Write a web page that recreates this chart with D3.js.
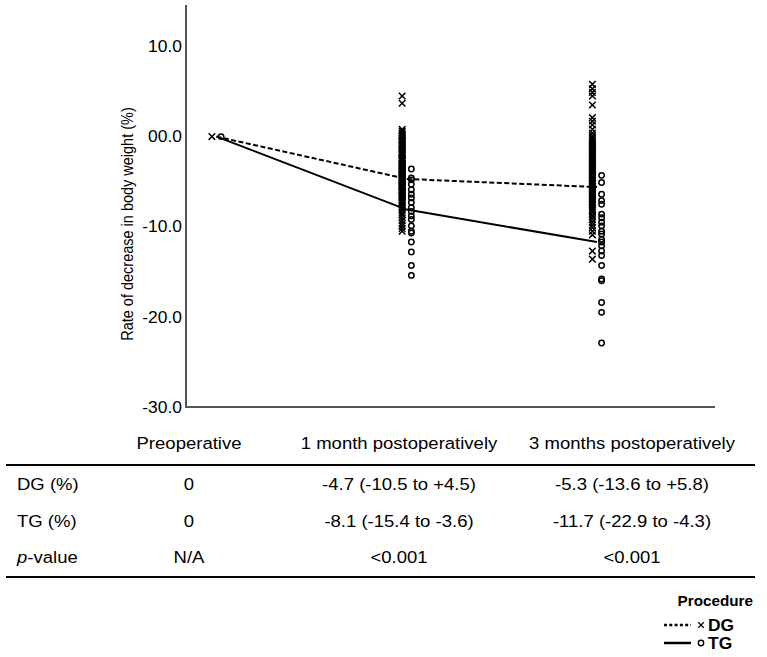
<!DOCTYPE html>
<html>
<head>
<meta charset="utf-8">
<script src="https://cdn.jsdelivr.net/npm/d3@7"></script>
<style>
  body { margin: 0; background: #fff; }
  svg { display: block; font-family: "Liberation Sans", Arial, sans-serif; }
</style>
</head>
<body>
<svg id="chart" width="767" height="657"></svg>
<script>
// ---- data ----
const timepoints = ["Preoperative", "1 month postoperatively", "3 months postoperatively"];
const yTicks = [10, 0, -10, -20, -30];
const yTickLabels = ["10.0", "00.0", "-10.0", "-20.0", "-30.0"];

const dgPre = [0];
const tgPre = [0];
const dg1m = [4.5, 3.7, 0.8, 0.6, 0.4, 0.2, 0.1, 0.0, -0.2, -0.3, -0.5, -0.6, -0.8, -0.9, -1.0, -1.1, -1.3, -1.4, -1.5, -1.7, -1.8, -1.9, -2.0, -2.1, -2.3, -2.4, -2.5, -2.6, -2.7, -2.9, -3.0, -3.1, -3.2, -3.3, -3.4, -3.5, -3.6, -3.7, -3.8, -3.9, -4.0, -4.1, -4.2, -4.3, -4.4, -4.5, -4.6, -4.7, -4.8, -4.9, -5.0, -5.1, -5.2, -5.3, -5.4, -5.5, -5.6, -5.7, -5.8, -5.9, -6.0, -6.1, -6.2, -6.3, -6.5, -6.6, -6.7, -6.8, -7.0, -7.1, -7.3, -7.4, -7.6, -7.8, -8.0, -8.2, -8.5, -8.7, -9.0, -9.3, -9.6, -9.9, -10.2, -10.5];
const tg1m = [-3.6, -4.6, -4.8, -5.3, -5.9, -6.4, -6.8, -7.3, -7.9, -8.3, -8.8, -9.2, -9.9, -10.5, -10.7, -11.7, -12.8, -14.3, -15.4];
const dg3m = [5.8, 5.3, 4.9, 4.5, 3.5, 2.1, 1.7, 1.3, 0.8, 0.4, 0.1, -0.1, -0.3, -0.5, -0.7, -0.9, -1.0, -1.2, -1.4, -1.5, -1.7, -1.9, -2.0, -2.2, -2.4, -2.5, -2.7, -2.9, -3.0, -3.2, -3.4, -3.5, -3.7, -3.9, -4.0, -4.2, -4.4, -4.5, -4.7, -4.9, -5.0, -5.2, -5.3, -5.5, -5.7, -5.8, -6.0, -6.2, -6.4, -6.5, -6.7, -6.9, -7.0, -7.2, -7.4, -7.6, -7.8, -8.0, -8.2, -8.4, -8.7, -8.9, -9.2, -9.5, -9.8, -10.1, -10.5, -10.9, -12.7, -13.6];
const tg3m = [-4.3, -5.1, -6.4, -7.1, -7.5, -8.6, -9.0, -9.5, -9.9, -10.5, -10.8, -11.4, -11.7, -12.1, -12.7, -13.2, -14.3, -15.8, -16.0, -18.4, -19.5, -22.9];

const dgLine = [0, -4.7, -5.6];
const tgLine = [0, -8.1, -11.7];

const tableHeader = ["Preoperative", "1 month postoperatively", "3 months postoperatively"];
const rowLabels = ["DG (%)", "TG (%)", "p-value"];
const dgRow = ["0", "-4.7 (-10.5 to +4.5)", "-5.3 (-13.6 to +5.8)"];
const tgRow = ["0", "-8.1 (-15.4 to -3.6)", "-11.7 (-22.9 to -4.3)"];
const pRow = ["N/A", "<0.001", "<0.001"];

const legendTitle = "Procedure";
const legendItems = ["DG", "TG"];

// ---- layout ----
const svg = d3.select("#chart");
const x = d3.scalePoint().domain(timepoints).range([216.5, 597]);
const y = d3.scaleLinear().domain([-30, 14.6]).range([407, 5]);
const axisLeftX = 186, axisRightX = 715;
const off = 4.6;
const sx = 1.09; // horizontal text stretch seen in the reference

// axes
const yAxis = svg.append("g").attr("transform", `translate(${axisLeftX},0)`)
  .call(d3.axisLeft(y).tickValues(yTicks).tickSize(0).tickPadding(0)
    .tickFormat((d, i) => yTickLabels[i]));
yAxis.select(".domain").remove();
yAxis.selectAll(".tick text")
  .attr("x", null).attr("dy", null)
  .attr("font-size", 16).attr("fill", "#000")
  .attr("font-family", "Liberation Sans, Arial, sans-serif")
  .attr("dominant-baseline", "central")
  .attr("transform", `translate(-4,0) scale(${sx},1)`);

svg.append("line").attr("x1", axisLeftX).attr("x2", axisLeftX)
  .attr("y1", y.range()[1]).attr("y2", y.range()[0] + 1)
  .attr("stroke", "#555").attr("stroke-width", 2);
svg.append("line").attr("x1", axisLeftX - 1).attr("x2", axisRightX)
  .attr("y1", y(-30)).attr("y2", y(-30))
  .attr("stroke", "#555").attr("stroke-width", 2);

svg.append("text")
  .attr("transform", `translate(133,${(y(14.6) + y(-30)) / 2 + 18}) scale(1.2,1) rotate(-90)`)
  .attr("text-anchor", "middle").attr("font-size", 14.5)
  .text("Rate of decrease in body weight (%)");

// lines
const line = d3.line().x((d, i) => x(timepoints[i])).y(d => y(d));
svg.append("path").datum(dgLine).attr("d", line).attr("fill", "none")
  .attr("stroke", "#000").attr("stroke-width", 2).attr("stroke-dasharray", "5,2.5");
svg.append("path").datum(tgLine).attr("d", line).attr("fill", "none")
  .attr("stroke", "#000").attr("stroke-width", 2);

// points
const xSym = d3.symbol().type(d3.symbolX).size(30);
const dgSets = [dgPre, dg1m, dg3m];
const tgSets = [tgPre, tg1m, tg3m];
dgSets.forEach((vals, i) => {
  svg.append("g").selectAll("path").data(vals).join("path")
    .attr("d", xSym)
    .attr("transform", d => `translate(${x(timepoints[i]) - off},${y(d)})`)
    .attr("fill", "none").attr("stroke", "#000").attr("stroke-width", 1.5);
});
tgSets.forEach((vals, i) => {
  svg.append("g").selectAll("circle").data(vals).join("circle")
    .attr("cx", x(timepoints[i]) + off).attr("cy", d => y(d)).attr("r", 2.7)
    .attr("fill", "none").attr("stroke", "#000").attr("stroke-width", 1.5);
});

// table
const colX = d3.scaleOrdinal().domain(tableHeader).range([189, 399, 632]);
const fs = 17;
function stretched(tx, ty) { return `translate(${tx},${ty}) scale(${sx},1)`; }
svg.append("g").selectAll("text").data(tableHeader).join("text")
  .attr("transform", d => stretched(colX(d), 449)).attr("text-anchor", "middle")
  .attr("font-size", fs).text(d => d);
svg.append("line").attr("x1", 6).attr("x2", 755).attr("y1", 465).attr("y2", 465)
  .attr("stroke", "#000").attr("stroke-width", 2);
svg.append("line").attr("x1", 6).attr("x2", 755).attr("y1", 577).attr("y2", 577)
  .attr("stroke", "#000").attr("stroke-width", 2);

const rowY = [490, 527, 563];
const rows = [dgRow, tgRow, pRow];
rows.forEach((r, ri) => {
  const lab = svg.append("text").attr("transform", stretched(17, rowY[ri]))
    .attr("font-size", fs);
  if (rowLabels[ri] === "p-value") {
    lab.append("tspan").attr("font-style", "italic").text("p");
    lab.append("tspan").text("-value");
  } else {
    lab.text(rowLabels[ri]);
  }
  svg.append("g").selectAll("text").data(r).join("text")
    .attr("transform", (d, i) => stretched(colX(tableHeader[i]), rowY[ri]))
    .attr("text-anchor", "middle").attr("font-size", fs).text(d => d);
});

// legend
svg.append("text").attr("transform", stretched(753, 606)).attr("text-anchor", "end")
  .attr("font-size", 14).attr("font-weight", "bold").text(legendTitle);
const legY = [625, 643];
legendItems.forEach((name, i) => {
  const ly = legY[i];
  svg.append("line").attr("x1", 664).attr("x2", 691).attr("y1", ly).attr("y2", ly)
    .attr("stroke", "#000").attr("stroke-width", 2.5)
    .attr("stroke-dasharray", i === 0 ? "3,2.3" : null);
  if (i === 0) {
    svg.append("path").attr("d", d3.symbol().type(d3.symbolX).size(22))
      .attr("transform", `translate(701,${ly})`)
      .attr("fill", "none").attr("stroke", "#000").attr("stroke-width", 1.2);
  } else {
    svg.append("circle").attr("cx", 701).attr("cy", ly).attr("r", 2.7)
      .attr("fill", "none").attr("stroke", "#000").attr("stroke-width", 1.4);
  }
  svg.append("text").attr("transform", stretched(708, ly + 6)).attr("font-size", 16)
    .attr("font-weight", "bold").text(name);
});
</script>
</body>
</html>
